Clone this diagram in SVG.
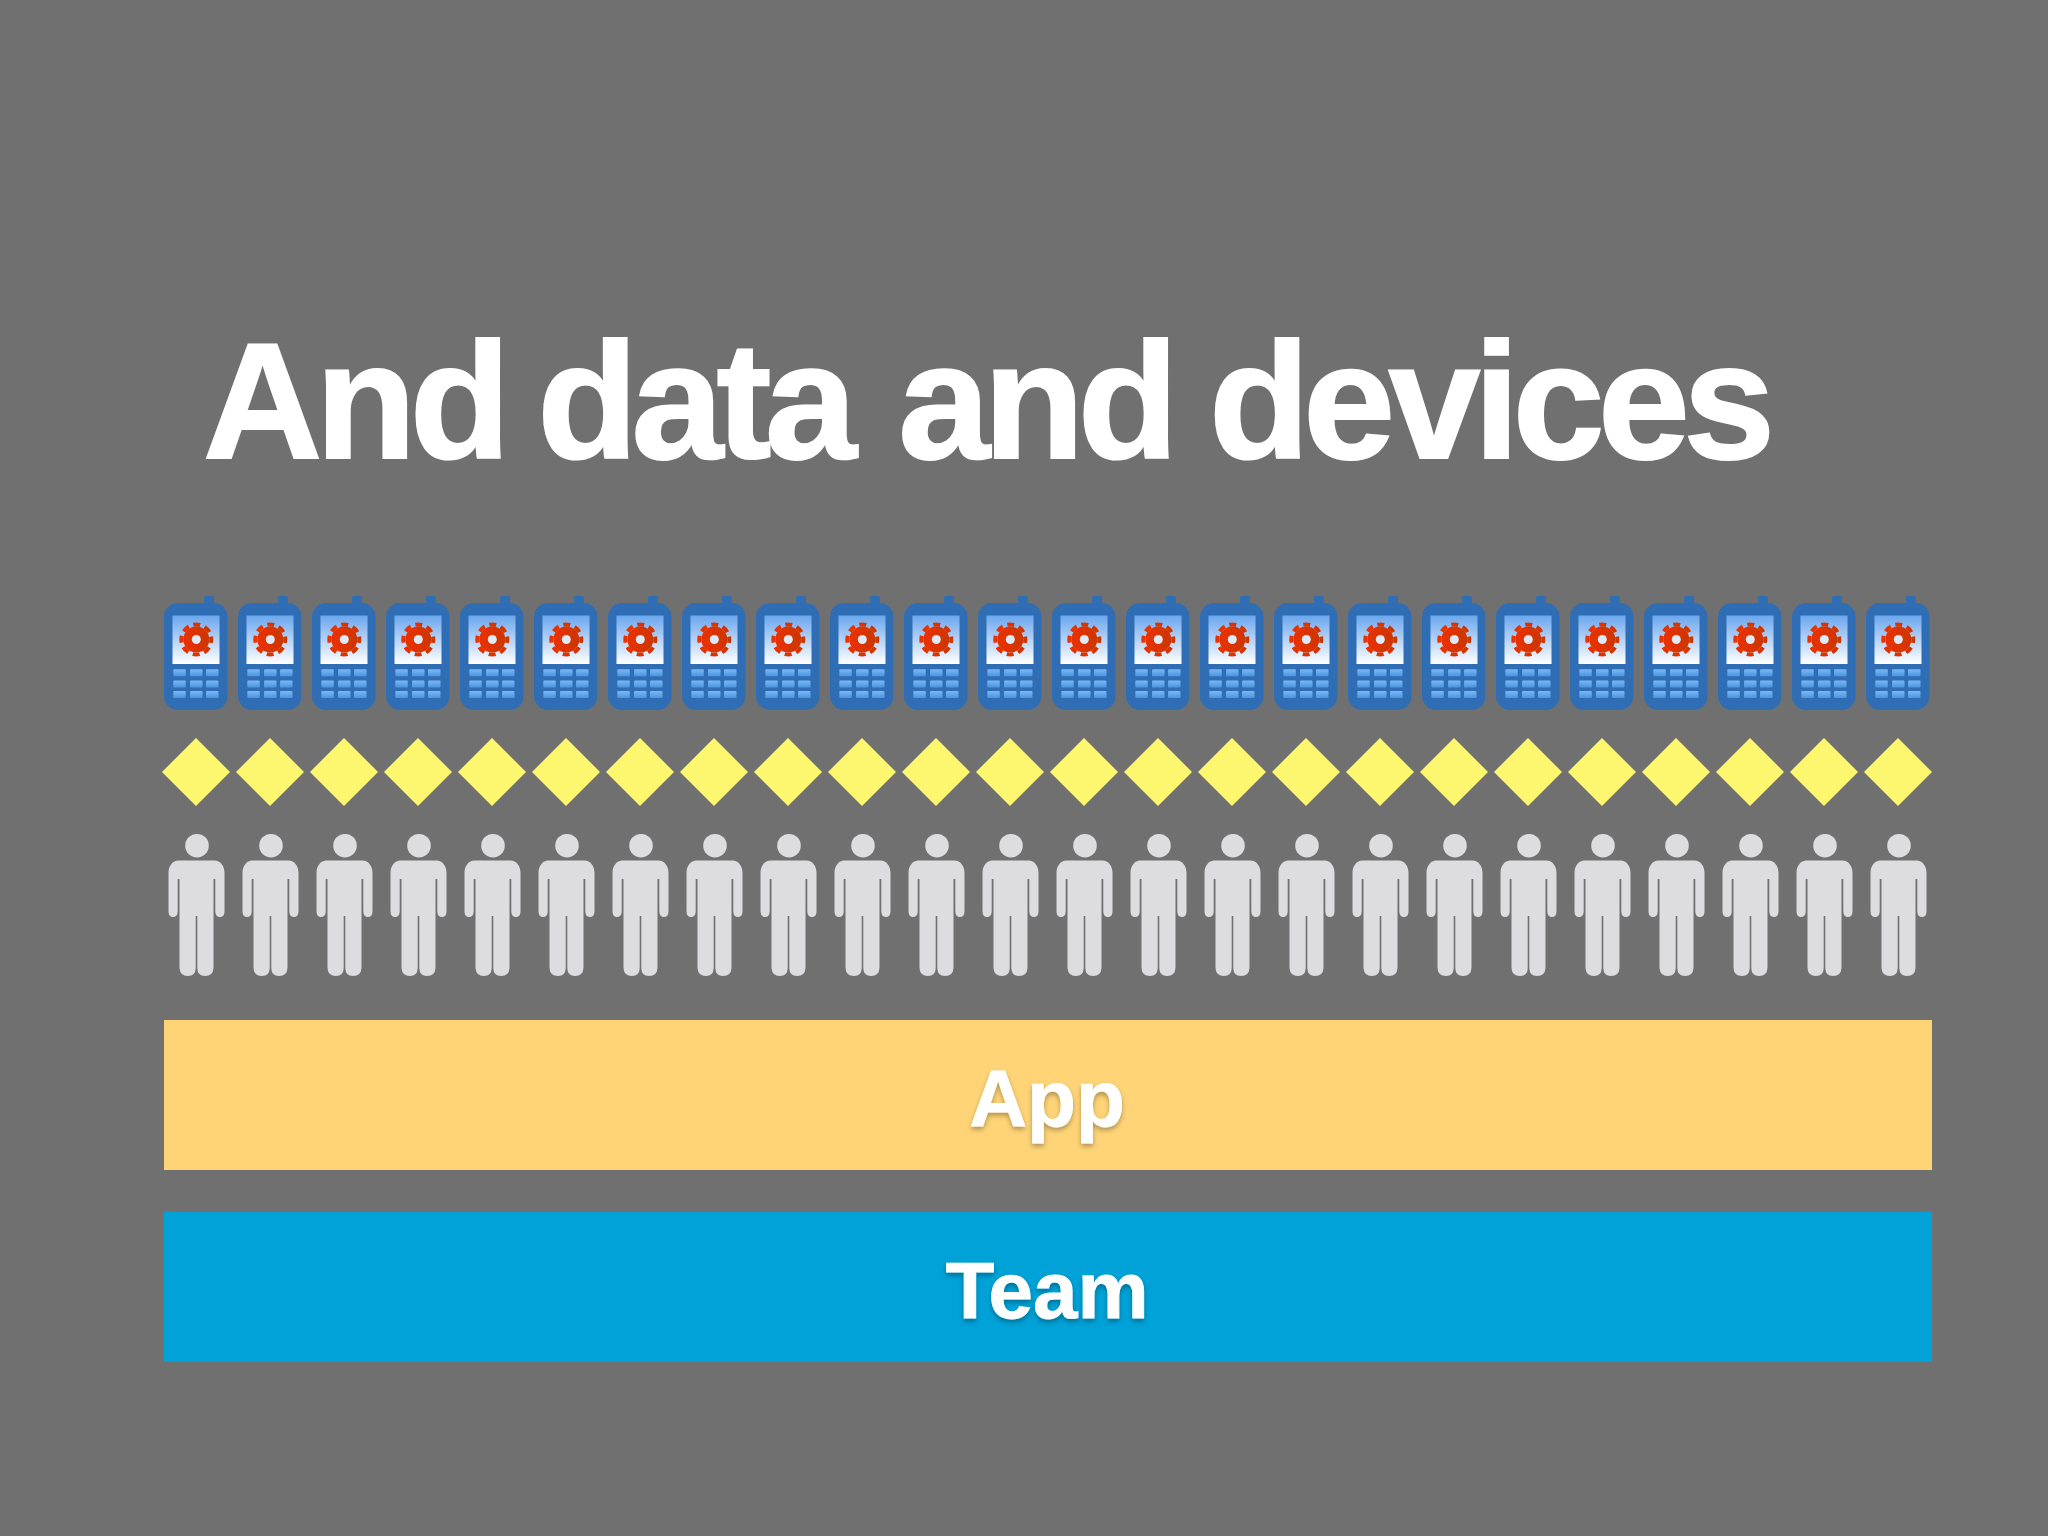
<svg xmlns="http://www.w3.org/2000/svg" width="2048" height="1536" viewBox="0 0 2048 1536">
<style>
text{font-family:"Liberation Sans",Arial,sans-serif;font-weight:700;fill:#fff;stroke:#fff}
.lab{font-size:80px;text-anchor:middle;stroke-width:.8}
.key{fill:url(#k)}
</style>
<defs>
<linearGradient id="s" x1="0" y1="0" x2="0" y2="1"><stop offset="0" stop-color="#6aa6ee"/><stop offset="1" stop-color="#fff"/></linearGradient>
<linearGradient id="k" x1="0" y1="0" x2="0" y2="1"><stop offset="0" stop-color="#7ab8f4"/><stop offset="1" stop-color="#4d94e0"/></linearGradient>
<linearGradient id="g" gradientUnits="userSpaceOnUse" x1="180" y1="0" x2="213" y2="0"><stop offset="0" stop-color="#ee3000"/><stop offset="1" stop-color="#c93600"/></linearGradient>
<filter id="ts" x="-20%" y="-20%" width="140%" height="150%"><feDropShadow dx="0" dy="3" stdDeviation="2.500" flood-color="#000" flood-opacity=".3"/></filter>
<g id="phone">
<rect x="204" y="596" width="10" height="12" rx="2" fill="#2f6eb5"/>
<rect x="164" y="603" width="63.500" height="107" rx="14" fill="#2f6eb5"/>
<rect x="172.500" y="615.500" width="47" height="48.500" fill="url(#s)"/>
<circle cx="196.300" cy="639.500" r="13" fill="url(#g)"/>
<circle cx="196.300" cy="639.500" r="15" fill="none" stroke="url(#g)" stroke-width="4" stroke-dasharray="7 4.780" stroke-dashoffset="3.500"/>
<circle cx="196.300" cy="639.500" r="4.500" fill="#dfe9f8"/>
<g class="key">
<rect x="173.300" y="669.300" width="12.500" height="7" rx="1"/><rect x="190" y="669.300" width="12.500" height="7" rx="1"/><rect x="206" y="669.300" width="12.500" height="7" rx="1"/>
<rect x="173.300" y="680.500" width="12.500" height="7" rx="1"/><rect x="190" y="680.500" width="12.500" height="7" rx="1"/><rect x="206" y="680.500" width="12.500" height="7" rx="1"/>
<rect x="173.300" y="691" width="12.500" height="7" rx="1"/><rect x="190" y="691" width="12.500" height="7" rx="1"/><rect x="206" y="691" width="12.500" height="7" rx="1"/>
</g>
</g>
<polygon id="diamond" points="196,738 230,772 196,806 162,772" fill="#fdf76f"/>
<g id="person" fill="#dddcde">
<circle cx="197" cy="845.700" r="11.800"/>
<path transform="translate(196.500 0)" d="M-18 860.500H18C24 860.500 28 866 28 873V911Q28 917 23.500 917Q18.800 917 18.800 911V879H17V968Q16.500 976 8.500 976Q1 976 .8 968V916H-.8V968Q-1 976-8.500 976Q-16.500 976-17 968V879H-18.800V911Q-18.800 917-23.500 917Q-28 917-28 911V873C-28 866-24 860.500-18 860.500Z"/>
</g>
<g id="col"><use href="#phone"/><use href="#diamond"/><use href="#person"/></g>
</defs>
<rect id="background" width="2048" height="1536" fill="#717071"/>
<text id="title" x="203" y="458" font-size="165" letter-spacing="-6.600" stroke-width="2">And <tspan dx="-6">data</tspan> <tspan dx="9">and</tspan> <tspan dx="-2">devices</tspan></text>
<g id="columns">
<use href="#col"/><use href="#col" x="74"/><use href="#col" x="148"/><use href="#col" x="222"/><use href="#col" x="296"/><use href="#col" x="370"/><use href="#col" x="444"/><use href="#col" x="518"/><use href="#col" x="592"/><use href="#col" x="666"/><use href="#col" x="740"/><use href="#col" x="814"/><use href="#col" x="888"/><use href="#col" x="962"/><use href="#col" x="1036"/><use href="#col" x="1110"/><use href="#col" x="1184"/><use href="#col" x="1258"/><use href="#col" x="1332"/><use href="#col" x="1406"/><use href="#col" x="1480"/><use href="#col" x="1554"/><use href="#col" x="1628"/><use href="#col" x="1702"/>
</g>
<g id="app"><rect x="164" y="1020" width="1768" height="150" fill="#fed477"/><text class="lab" x="1047" y="1126" filter="url(#ts)">App</text></g>
<g id="team"><rect x="164" y="1212" width="1768" height="150" fill="#00a2d7"/><text class="lab" x="1047" y="1318" filter="url(#ts)">Team</text></g>
</svg>
